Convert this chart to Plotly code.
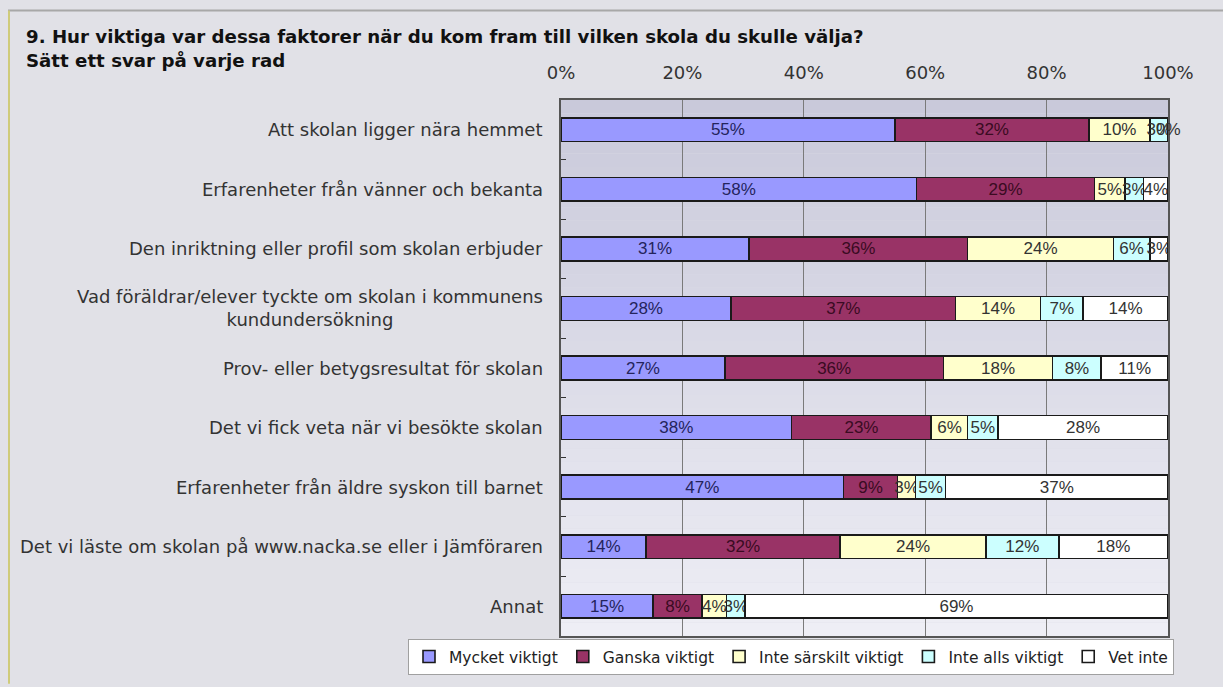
import plotly.graph_objects as go

# ---- data ----
categories = [
    "Att skolan ligger nära hemmet",
    "Erfarenheter från vänner och bekanta",
    "Den inriktning eller profil som skolan erbjuder",
    "Vad föräldrar/elever tyckte om skolan i kommunens<br>kundundersökning",
    "Prov- eller betygsresultat för skolan",
    "Det vi fick veta när vi besökte skolan",
    "Erfarenheter från äldre syskon till barnet",
    "Det vi läste om skolan på www.nacka.se eller i Jämföraren",
    "Annat",
]
series_names = ["Mycket viktigt", "Ganska viktigt", "Inte särskilt viktigt", "Inte alls viktigt", "Vet inte"]
mycket_viktigt = [55, 58, 31, 28, 27, 38, 47, 14, 15]
ganska_viktigt = [32, 29, 36, 37, 36, 23, 9, 32, 8]
inte_sarskilt = [10, 5, 24, 14, 18, 6, 3, 24, 4]
inte_alls = [3, 3, 6, 7, 8, 5, 5, 12, 3]
vet_inte = [0, 4, 3, 14, 11, 28, 37, 18, 69]
x_ticks = [0, 20, 40, 60, 80, 100]
title_text = "9. Hur viktiga var dessa faktorer när du kom fram till vilken skola du skulle välja?<br>Sätt ett svar på varje rad"

# ---- styles ----
all_series = [mycket_viktigt, ganska_viktigt, inte_sarskilt, inte_alls, vet_inte]
colors = ["#9999FF", "#993366", "#FFFFCC", "#CCFFFF", "#FFFFFF"]
text_colors = ["#24245c", "#3a0b22", "#333333", "#333333", "#333333"]
BG = "#e1e1e7"
W, H = 1223, 687
ML, MR, MT, MB = 561, 55, 100, 48
PW, PH = W - ML - MR, H - MT - MB

def px(x):
    return (x - ML) / PW

def py(y):
    return (H - MB - y) / PH

fig = go.Figure()
for name, vals, col, tcol in zip(series_names, all_series, colors, text_colors):
    fig.add_trace(go.Bar(
        name=name, y=categories, x=vals, orientation="h",
        marker=dict(color=col, line=dict(color="#1a1a1a", width=1.6)),
        text=[f"{v}%" for v in vals], textposition="inside",
        insidetextanchor="middle", constraintext="none", textangle=0,
        textfont=dict(family="Liberation Sans, Arial", size=17, color=tcol),
        hoverinfo="skip",
    ))

annotations = []
# labels for zero-size segments (plotly does not draw text on empty bars)
for ci, cat in enumerate(categories):
    total = sum(s[ci] for s in all_series)
    cum = 0
    for s in all_series:
        v = s[ci]
        if v == 0:
            annotations.append(dict(x=100 * cum / total, xref="x", y=cat, yref="y", text=f"{v}%",
                                    showarrow=False, xanchor="center",
                                    font=dict(family="Liberation Sans, Arial", size=17, color="#333333")))
        cum += v

# gradient background bands in plot area
shapes = []
n = 40
c0 = (0xC9, 0xC9, 0xDA)
c1 = (0xEE, 0xEE, 0xF5)
for i in range(n):
    t = i / (n - 1)
    c = tuple(round(a + (b - a) * t) for a, b in zip(c0, c1))
    shapes.append(dict(type="rect", xref="x domain", yref="y domain",
                       x0=0, x1=1, y0=1 - (i + 1) / n, y1=1 - i / n,
                       fillcolor="rgb(%d,%d,%d)" % c, line=dict(width=0), layer="below"))
# outer frame lines
shapes.append(dict(type="line", xref="paper", yref="paper", x0=px(8), x1=px(1223), y0=py(10), y1=py(10),
                   line=dict(color="#a8a8a8", width=2)))
shapes.append(dict(type="line", xref="paper", yref="paper", x0=px(9), x1=px(9), y0=py(10), y1=py(687),
                   line=dict(color="#cfcb7a", width=2)))

for cat in categories:
    annotations.append(dict(x=0, xref="paper", y=cat, yref="y", text=cat, showarrow=False,
                            xanchor="right", xshift=-16, align="center",
                            font=dict(family="DejaVu Sans, Verdana", size=18, color="#333333")))

annotations.append(dict(x=px(24), xref="paper", y=py(24), yref="paper", text="<b>" + title_text + "</b>",
                        showarrow=False, xanchor="left", yanchor="top", align="left",
                        font=dict(family="DejaVu Sans, Verdana", size=18.2, color="#111111")))

fig.update_layout(
    width=W, height=H,
    margin=dict(l=ML, r=MR, t=MT, b=MB),
    paper_bgcolor=BG, plot_bgcolor="#dcdce6",
    barmode="stack", barnorm="percent", bargap=0.6,
    xaxis=dict(side="top", range=[0, 100], tickvals=x_ticks, ticktext=[f"{t}%" for t in x_ticks],
               showgrid=True, gridcolor="#7a7a7a", gridwidth=1, zeroline=False,
               showline=True, linecolor="#555555", linewidth=1.5, mirror=True,
               ticks="", ticklabelstandoff=12,
               tickfont=dict(family="DejaVu Sans, Verdana", size=18, color="#333333")),
    yaxis=dict(categoryorder="array", categoryarray=categories, autorange="reversed",
               showticklabels=False, showgrid=False, zeroline=False,
               ticks="inside", tickson="boundaries", ticklen=5, tickcolor="#333333",
               showline=True, linecolor="#555555", linewidth=1.5, mirror=True),
    legend=dict(orientation="h", x=px(408), xanchor="left", y=py(642), yanchor="top",
                bgcolor="#ffffff", bordercolor="#a0a0a0", borderwidth=1,
                font=dict(family="DejaVu Sans, Verdana", size=15.5, color="#222222"),
                itemwidth=30, traceorder="normal"),
    shapes=shapes, annotations=annotations,
    showlegend=True,
)

fig.write_html("out.html", config={"displayModeBar": False},
               post_script="document.body.style.margin='0';document.body.style.background='%s';" % BG)
